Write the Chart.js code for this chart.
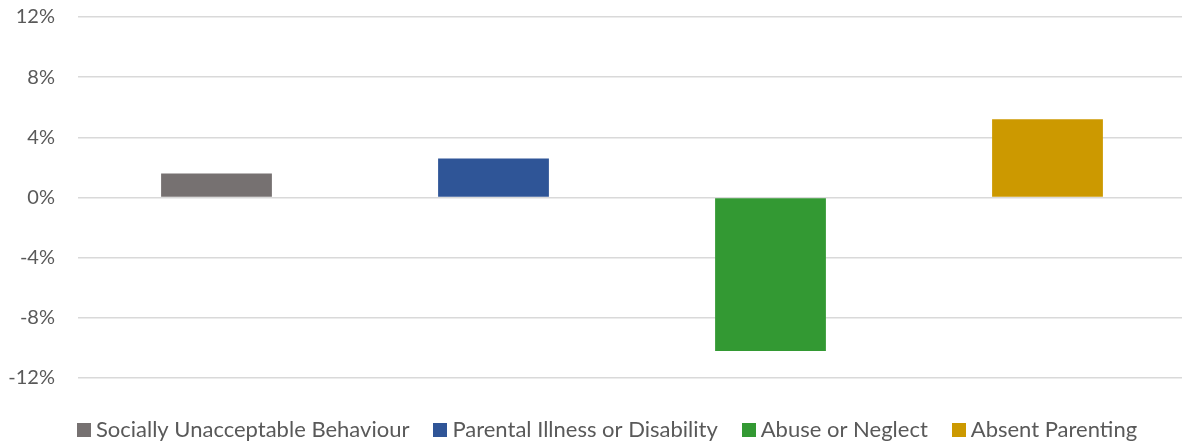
<!DOCTYPE html>
<html>
<head>
<meta charset="utf-8">
<script src="https://cdn.jsdelivr.net/npm/chart.js@4.4.1/dist/chart.umd.min.js"></script>
<style>
  html, body { margin: 0; padding: 0; background: #ffffff; overflow: hidden; }
  #wrap { position: relative; width: 1190px; height: 451px; }
</style>
</head>
<body>
<div id="wrap"><canvas id="c"></canvas></div>
<script>
const categories = ["Socially Unacceptable Behaviour", "Parental Illness or Disability", "Abuse or Neglect", "Absent Parenting"];
const values = [1.6, 2.6, -10.2, 5.2];
const colors = ["#767171", "#2F5597", "#339933", "#CC9900"];
const yTicks = [-12, -8, -4, 0, 4, 8, 12];

const FONT = "Lato";
const datasets = categories.map((name, i) => ({
  label: name,
  data: categories.map((_, j) => (j === i ? values[i] : null)),
  backgroundColor: colors[i],
  borderWidth: 0,
  skipNull: true,
  categoryPercentage: 1.0,
  barPercentage: 0.4
}));

// square swatches for the legend
const swatches = colors.map(c => {
  const cv = document.createElement('canvas');
  cv.width = 14; cv.height = 14;
  const g = cv.getContext('2d');
  g.fillStyle = c; g.fillRect(0, 0, 14, 14);
  return cv;
});

const shiftLegend = {
  id: 'shiftLegend',
  afterLayout(chart) {
    const lg = chart.legend;
    if (lg) { lg.left += 17; lg.right += 17; }
  }
};

new Chart(document.getElementById('c'), {
  type: 'bar',
  data: { labels: categories, datasets },
  plugins: [shiftLegend],
  options: {
    responsive: true,
    maintainAspectRatio: false,
    animation: false,
    layout: { padding: { top: 17, left: 0, right: 4, bottom: 0 } },
    plugins: {
      tooltip: { enabled: false },
      legend: {
        position: 'bottom',
        labels: {
          usePointStyle: true,
          pointStyleWidth: 2,
          boxWidth: 2, boxHeight: 14, padding: 30,
          color: '#595959',
          font: { family: FONT, size: 22 },
          generateLabels: (chart) => {
            const items = Chart.defaults.plugins.legend.labels.generateLabels(chart);
            items.forEach((it) => { it.pointStyle = swatches[it.datasetIndex]; });
            return items;
          }
        }
      }
    },
    scales: {
      x: {
        offset: true,
        grid: { display: false },
        border: { display: false },
        ticks: { display: false },
        afterFit: (s) => { s.height = 11; }
      },
      y: {
        min: -12, max: 12,
        afterBuildTicks: (s) => { s.ticks = yTicks.map(v => ({ value: v })); },
        afterFit: (s) => { s.width = 78; s.paddingTop = 0; s.paddingBottom = 0; },
        grid: { color: '#D9D9D9', lineWidth: 1.5, drawTicks: false },
        border: { display: false },
        ticks: {
          padding: 23,
          color: '#595959',
          font: { family: FONT, size: 20 },
          callback: (v) => v + '%'
        }
      }
    }
  }
});
</script>
</body>
</html>
